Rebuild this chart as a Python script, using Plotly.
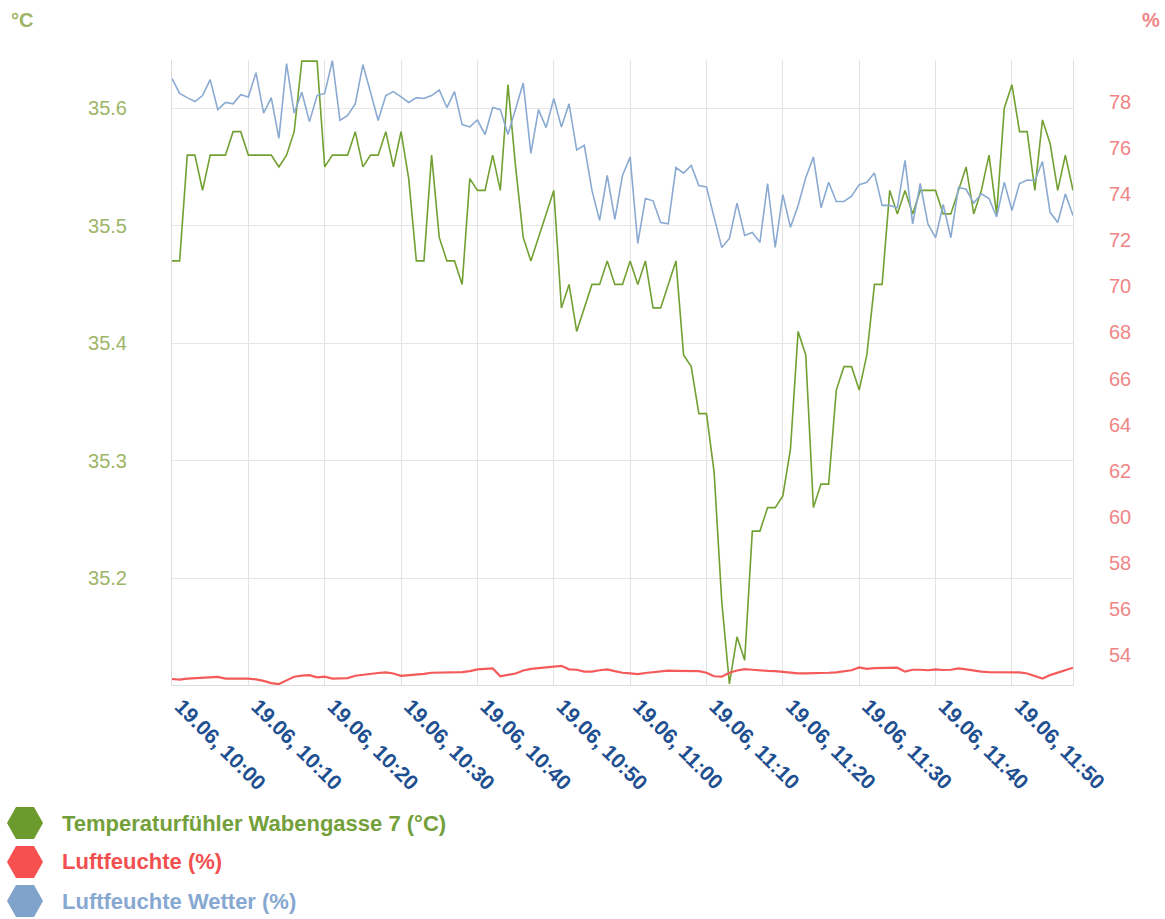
import plotly.graph_objects as go

DAY = "2024-06-19"
times = [
    "10:00", "10:01", "10:02", "10:03", "10:04", "10:05", "10:06", "10:07", "10:08", "10:09",
    "10:10", "10:11", "10:12", "10:13", "10:14", "10:15", "10:16", "10:17", "10:18", "10:19",
    "10:20", "10:21", "10:22", "10:23", "10:24", "10:25", "10:26", "10:27", "10:28", "10:29",
    "10:30", "10:31", "10:32", "10:33", "10:34", "10:35", "10:36", "10:37", "10:38", "10:39",
    "10:40", "10:41", "10:42", "10:43", "10:44", "10:45", "10:46", "10:47", "10:48", "10:49",
    "10:50", "10:51", "10:52", "10:53", "10:54", "10:55", "10:56", "10:57", "10:58", "10:59",
    "11:00", "11:01", "11:02", "11:03", "11:04", "11:05", "11:06", "11:07", "11:08", "11:09",
    "11:10", "11:11", "11:12", "11:13", "11:14", "11:15", "11:16", "11:17", "11:18", "11:19",
    "11:20", "11:21", "11:22", "11:23", "11:24", "11:25", "11:26", "11:27", "11:28", "11:29",
    "11:30", "11:31", "11:32", "11:33", "11:34", "11:35", "11:36", "11:37", "11:38", "11:39",
    "11:40", "11:41", "11:42", "11:43", "11:44", "11:45", "11:46", "11:47", "11:48", "11:49",
    "11:50", "11:51", "11:52", "11:53", "11:54", "11:55", "11:56", "11:57", "11:58",
]

temperature = [
    35.47, 35.47, 35.56, 35.56, 35.53, 35.56, 35.56, 35.56, 35.58, 35.58,
    35.56, 35.56, 35.56, 35.56, 35.55, 35.56, 35.58, 35.64, 35.64, 35.64,
    35.55, 35.56, 35.56, 35.56, 35.58, 35.55, 35.56, 35.56, 35.58, 35.55,
    35.58, 35.54, 35.47, 35.47, 35.56, 35.49, 35.47, 35.47, 35.45, 35.54,
    35.53, 35.53, 35.56, 35.53, 35.62, 35.55, 35.49, 35.47, 35.49, 35.51,
    35.53, 35.43, 35.45, 35.41, 35.43, 35.45, 35.45, 35.47, 35.45, 35.45,
    35.47, 35.45, 35.47, 35.43, 35.43, 35.45, 35.47, 35.39, 35.38, 35.34,
    35.34, 35.29, 35.18, 35.11, 35.15, 35.13, 35.24, 35.24, 35.26, 35.26,
    35.27, 35.31, 35.41, 35.39, 35.26, 35.28, 35.28, 35.36, 35.38, 35.38,
    35.36, 35.39, 35.45, 35.45, 35.53, 35.51, 35.53, 35.51, 35.53, 35.53,
    35.53, 35.51, 35.51, 35.53, 35.55, 35.51, 35.53, 35.56, 35.51, 35.60,
    35.62, 35.58, 35.58, 35.53, 35.59, 35.57, 35.53, 35.56, 35.53,
]

humidity = [
    52.98, 52.95, 53.00, 53.02, 53.04, 53.06, 53.07, 53.00, 53.00, 53.00,
    53.00, 52.96, 52.90, 52.80, 52.76, 52.92, 53.08, 53.13, 53.15, 53.05,
    53.08, 53.00, 53.00, 53.02, 53.12, 53.17, 53.20, 53.24, 53.27, 53.22,
    53.12, 53.14, 53.17, 53.20, 53.25, 53.26, 53.26, 53.25, 53.28, 53.32,
    53.40, 53.42, 53.44, 53.10, 53.15, 53.22, 53.35, 53.42, 53.45, 53.48,
    53.52, 53.55, 53.40, 53.38, 53.30, 53.30, 53.36, 53.40, 53.32, 53.25,
    53.22, 53.19, 53.24, 53.27, 53.30, 53.34, 53.33, 53.32, 53.32, 53.32,
    53.25, 53.10, 53.08, 53.25, 53.35, 53.41, 53.38, 53.34, 53.33, 53.32,
    53.28, 53.25, 53.22, 53.22, 53.22, 53.22, 53.25, 53.27, 53.32, 53.36,
    53.48, 53.42, 53.45, 53.46, 53.48, 53.47, 53.30, 53.38, 53.38, 53.36,
    53.40, 53.37, 53.38, 53.44, 53.40, 53.34, 53.30, 53.28, 53.27, 53.27,
    53.27, 53.27, 53.22, 53.10, 53.00, 53.15, 53.25, 53.34, 53.47,
]

humidity_weather = [
    79.00, 78.35, 78.17, 78.00, 78.26, 78.95, 77.65, 77.96, 77.90, 78.30,
    78.20, 79.25, 77.50, 78.17, 76.40, 79.64, 77.50, 78.40, 77.13, 78.26,
    78.35, 79.77, 77.18, 77.40, 77.90, 79.60, 78.40, 77.18, 78.26, 78.43,
    78.20, 77.96, 78.17, 78.13, 78.26, 78.50, 77.74, 78.43, 77.00, 76.90,
    77.20, 76.57, 77.74, 77.65, 76.57, 77.70, 78.80, 75.75, 77.65, 76.87,
    78.13, 76.90, 77.90, 75.90, 76.10, 74.15, 72.85, 74.80, 72.90, 74.80,
    75.60, 71.85, 73.80, 73.70, 72.76, 72.70, 75.14, 74.90, 75.23, 74.36,
    74.30, 72.98, 71.68, 72.07, 73.60, 72.20, 72.33, 71.90, 74.45, 71.68,
    73.97, 72.55, 73.50, 74.70, 75.60, 73.40, 74.50, 73.67, 73.67, 73.90,
    74.40, 74.50, 74.90, 73.50, 73.50, 73.40, 75.45, 72.70, 74.45, 72.70,
    72.10, 73.54, 72.10, 74.28, 74.20, 73.60, 74.00, 73.80, 73.00, 74.50,
    73.28, 74.45, 74.60, 74.58, 75.40, 73.20, 72.76, 74.00, 73.06,
]

series_names = [
    "Temperaturfühler Wabengasse 7 (°C)",
    "Luftfeuchte (%)",
    "Luftfeuchte Wetter (%)",
]

x = [f"{DAY} {t}" for t in times]

GREEN = "#72a032"
GREEN_HEX = "#6c9a2c"
GREEN_TICK = "#9db566"
RED = "#f55a5a"
RED_HEX = "#f65050"
RED_TICK = "#f08585"
BLUE = "#8aaad2"
BLUE_HEX = "#7fa3cb"
X_TICK = "#1e4f90"
FONT = "Liberation Sans, Arial, sans-serif"

fig = go.Figure()
fig.add_trace(go.Scatter(x=x, y=humidity_weather, name=series_names[2], yaxis="y2",
                         mode="lines", line=dict(color=BLUE, width=1.6), showlegend=False))
fig.add_trace(go.Scatter(x=x, y=humidity, name=series_names[1], yaxis="y2",
                         mode="lines", line=dict(color=RED, width=2.2), showlegend=False))
fig.add_trace(go.Scatter(x=x, y=temperature, name=series_names[0], yaxis="y",
                         mode="lines", line=dict(color=GREEN, width=1.6), showlegend=False))

fig.update_layout(
    width=1165, height=919,
    margin=dict(l=172, r=92, t=60, b=234),
    paper_bgcolor="white", plot_bgcolor="white",
    font=dict(family=FONT),
    showlegend=False,
    xaxis=dict(
        type="date",
        range=[f"{DAY} 10:00", f"{DAY} 11:58"],
        dtick=600000, tick0=f"{DAY} 10:00",
        tickformat="%d.%m, %H:%M",
        tickangle=45,
        tickfont=dict(color=X_TICK, size=21, weight="bold", family=FONT),
        showgrid=True, gridcolor="#e3e3e3", gridwidth=1,
        showline=True, linecolor="#dcdcdc", linewidth=1,
        zeroline=False, ticks="", ticklabelshift=9,
    ),
    yaxis=dict(
        range=[35.109, 35.641], dtick=0.1, tick0=35.0,
        tickformat=".1f",
        tickfont=dict(color=GREEN_TICK, size=20, family=FONT),
        showgrid=True, gridcolor="#e6e6e6", gridwidth=1,
        showline=True, linecolor="#dcdcdc", linewidth=1,
        zeroline=False, ticks="", ticklabelstandoff=40,
    ),
    yaxis2=dict(
        overlaying="y", side="right",
        range=[52.72, 79.8], dtick=2, tick0=0,
        tickfont=dict(color=RED_TICK, size=20, family=FONT),
        showgrid=False,
        showline=True, linecolor="#e0e0e0", linewidth=1,
        zeroline=False, ticks="", ticklabelstandoff=31,
    ),
)

W, H = 1165, 919
L, R, T, B = 172, 92, 60, 234
PW, PH = W - L - R, H - T - B


def px(xp):
    return (xp - L) / PW


def py(yp):
    return (H - B - yp) / PH


# axis unit captions
fig.add_annotation(x=px(22), y=py(20), xref="paper", yref="paper", text="<b>°C</b>",
                   showarrow=False, xanchor="center", yanchor="middle",
                   font=dict(color=GREEN_TICK, size=20, family=FONT))
fig.add_annotation(x=px(1151), y=py(20), xref="paper", yref="paper", text="<b>%</b>",
                   showarrow=False, xanchor="center", yanchor="middle",
                   font=dict(color=RED_TICK, size=20, family=FONT))

# custom legend with hexagon markers
legend_rows = [823, 862, 901]
legend_hex = [GREEN_HEX, RED_HEX, BLUE_HEX]
legend_txt = ["#73a03a", "#f24f4f", "#86a8d1"]
hex_path = "M-18,0 L-9,-16 L9,-16 L18,0 L9,16 L-9,16 Z"
for name, row, hc, tc in zip(series_names, legend_rows, legend_hex, legend_txt):
    fig.add_shape(type="path", xref="paper", yref="paper",
                  xsizemode="pixel", ysizemode="pixel",
                  xanchor=px(25), yanchor=py(row), path=hex_path,
                  fillcolor=hc, line=dict(width=0))
    fig.add_annotation(x=px(60), y=py(row), xref="paper", yref="paper",
                       text=f"<b>{name}</b>", showarrow=False,
                       xanchor="left", yanchor="middle",
                       font=dict(color=tc, size=22, family=FONT))

fig.write_html("out.html", config={"displayModeBar": False},
               post_script="document.body.style.margin='0';")
